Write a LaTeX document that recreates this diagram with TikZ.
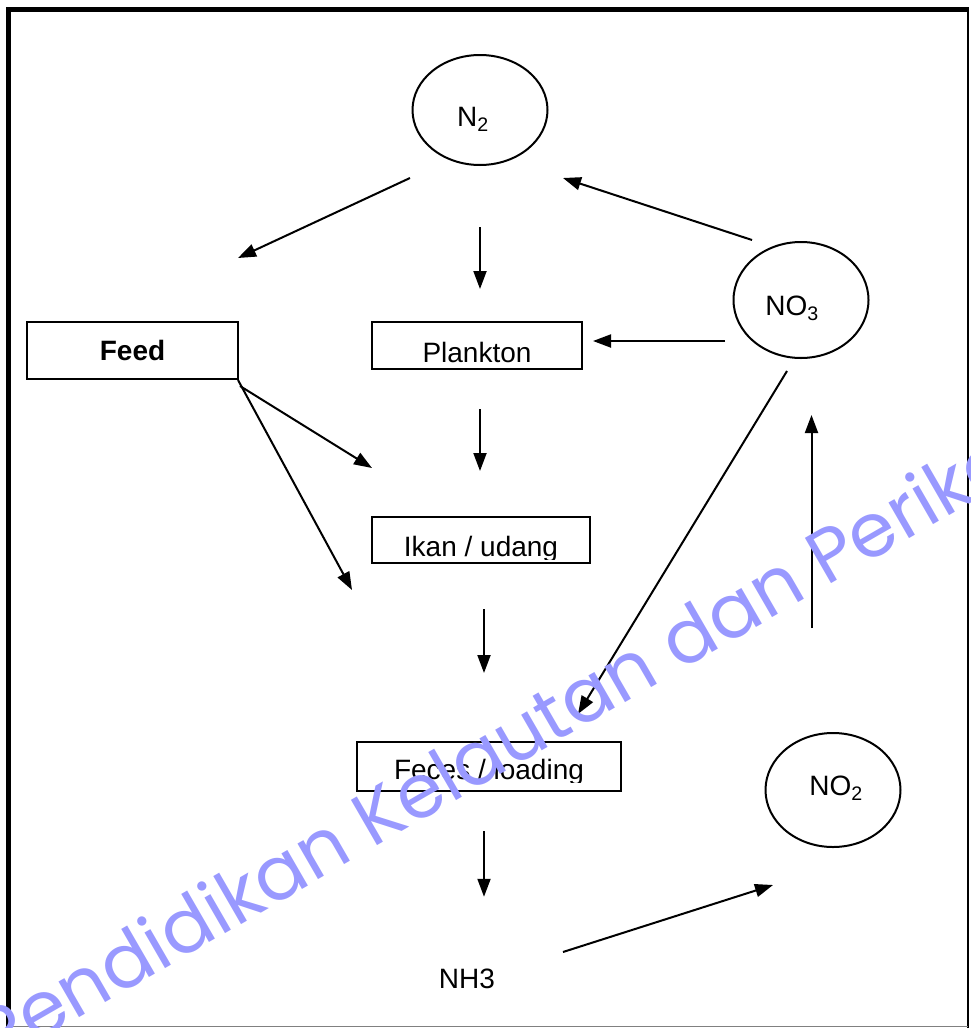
\documentclass[tikz,border=0pt]{standalone}
\usepackage{xcolor}
\definecolor{9999ff}{HTML}{9999FF}
\usepackage{fontspec}
\setmainfont{Liberation Sans}
\newfontfamily\markfont{Poppins}
\usetikzlibrary{arrows.meta, shapes.geometric}

\begin{document}
\begin{tikzpicture}[x=1pt, y=-1pt, line width=2pt,
    font=\fontsize{28}{32}\selectfont,
    arr/.style={-{Triangle[length=18pt, width=13pt]}},
    blob/.style={ellipse, draw, inner sep=0pt},
    box/.style={rectangle, draw, inner sep=0pt},
    boxtext/.style 2 args={path picture={
        \clip (path picture bounding box.north west) rectangle ([yshift=#2-3pt]path picture bounding box.south east);
        \node at ([yshift=#2]path picture bounding box.south) [anchor=base] {#1};}}]
    \useasboundingbox (0,0) rectangle (970,1028);

    % frame
    \draw[line width=5pt] (6,9.5) -- (969,9.5);
    \draw[line width=5pt] (8.5,7) -- (8.5,1028);
    \draw (968.3,9) -- (968.3,1028);
    \draw[gray, line width=1.5pt] (8,1026.5) -- (968,1026.5);

    % nitrogen forms
    \node (N2) at (480,110) [blob, minimum width=135pt, minimum height=110pt, text height=32pt, text depth=0pt] {N\textsubscript{2}\hspace*{14pt}};
    \node (NO3) at (801,300) [blob, minimum width=135pt, minimum height=116pt, text height=30pt, text depth=0pt] {NO\textsubscript{3}\hspace*{18pt}};
    \node (NO2) at (833,790) [blob, minimum width=135pt, minimum height=114pt, text height=20pt, text depth=10pt] {\hspace*{6pt}NO\textsubscript{2}};
    \node (NH3) at (467,979) {NH3};

    % boxes
    \node (feed) at (132.5,350.5) [box, minimum width=211pt, minimum height=57pt] {\bfseries Feed};
    \node (plankton) at (477,345.5) [box, minimum width=210pt, minimum height=47pt, boxtext={Plankton}{7pt}] {};
    \node (ikan) at (481,540) [box, minimum width=218pt, minimum height=46pt, boxtext={Ikan / udang}{7pt}] {};
    \node (feces) at (489,766.5) [box, minimum width=264pt, minimum height=49pt, boxtext={Feces / loading}{12pt}] {};

    % loose ends
    \coordinate (a1) at (410,178);
    \coordinate (a2) at (238,258);
    \coordinate (b1) at (752,240);
    \coordinate (b2) at (563,178);
    \coordinate (c1) at (725,341);
    \coordinate (c2) at (593,341);
    \coordinate (d1) at (240,386);
    \coordinate (d2) at (372,468);
    \coordinate (e1) at (238,380);
    \coordinate (e2) at (352,590);
    \coordinate (f1) at (787,371);
    \coordinate (f2) at (578,714);
    \coordinate (g1) at (811.5,628);
    \coordinate (g2) at (811.5,415);
    \coordinate (h1) at (563,952);
    \coordinate (h2) at (773,885);

    \draw[arr] (a1) -- (a2);
    \draw[arr, shorten <=61pt, shorten >=32pt] (N2.south) -- (N2.south |- plankton.north);
    \draw[arr] (b1) -- (b2);
    \draw[arr] (c1) -- (c2);
    \draw[arr] (d1) -- (d2);
    \draw[arr] (e1) -- (e2);
    \draw[arr, shorten <=39pt, shorten >=45pt] (N2.south |- plankton.south) -- (N2.south |- ikan.north);
    \draw[arr, shorten <=45pt, shorten >=68pt] ([xshift=3pt]ikan.south) -- ([xshift=3pt]ikan.south |- feces.north);
    \draw[arr] (f1) -- (f2);
    \draw[arr, shorten <=39pt, shorten >=68pt] ([xshift=-5pt]feces.south) -- ([xshift=-5pt]feces.south |- NH3.north);
    \draw[arr] (g1) -- (g2);
    \draw[arr] (h1) -- (h2);

    % watermark
    \begin{scope}
        \clip (0,0) rectangle (970,1028);
        \node (mark) at (-4,1066) [rotate=30, anchor=base west, inner sep=0pt, text=9999ff, font=\markfont\fontsize{75}{75}\selectfont] {Pendidikan Kelautan dan Perikanan};
    \end{scope}
\end{tikzpicture}
\end{document}
